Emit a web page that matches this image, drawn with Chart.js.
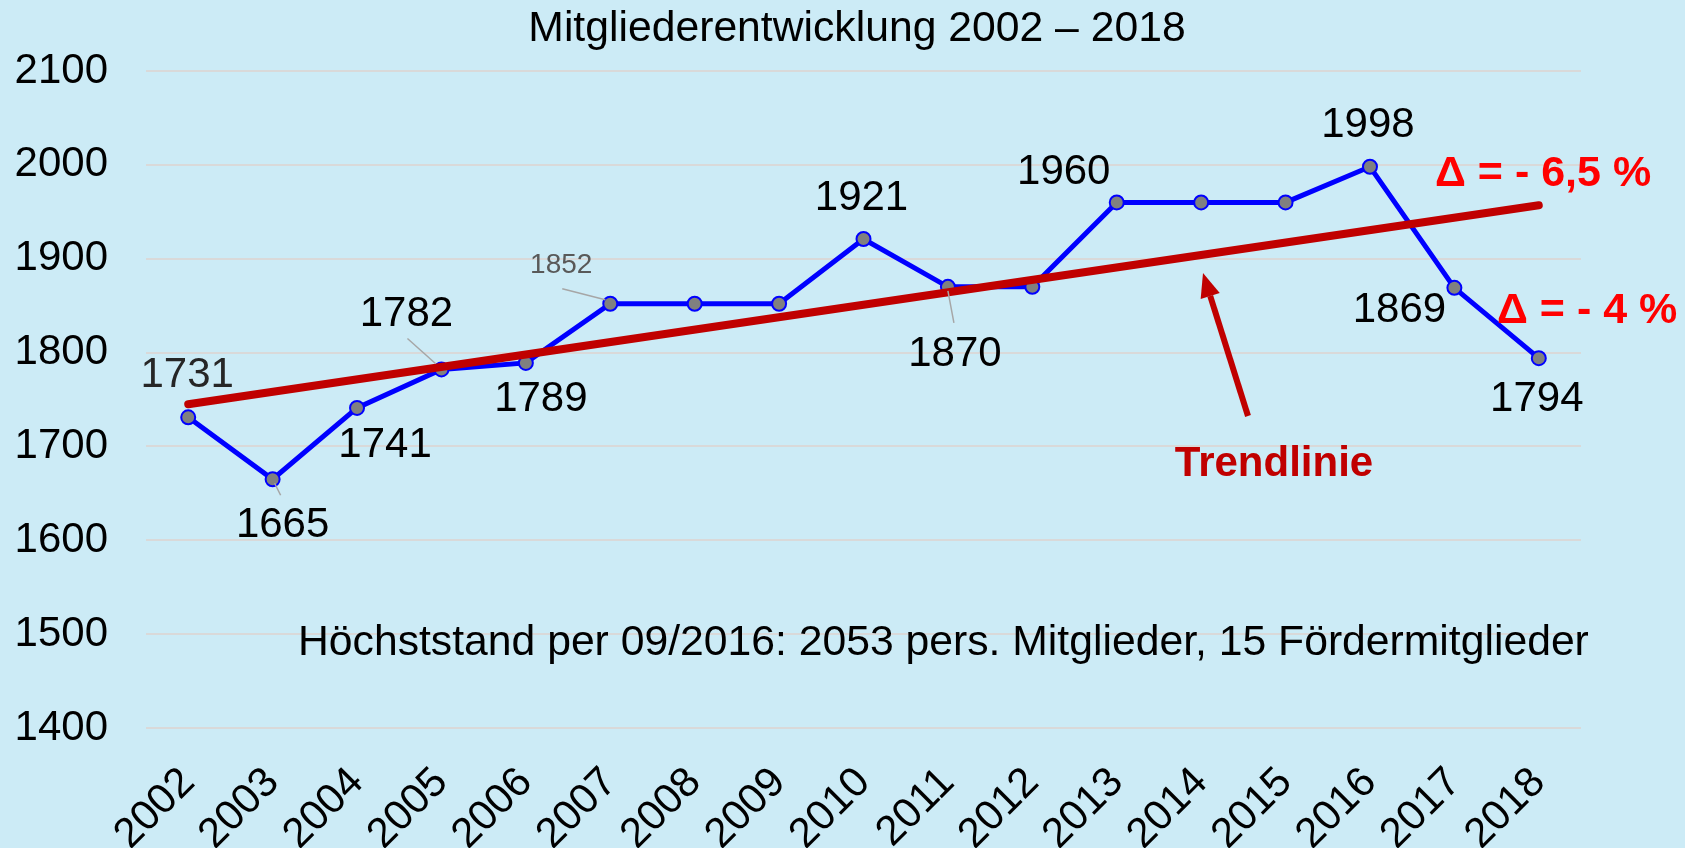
<!DOCTYPE html>
<html>
<head>
<meta charset="utf-8">
<script src="https://cdn.jsdelivr.net/npm/chart.js@4.4.1/dist/chart.umd.min.js"></script>
<style>
    html, body { margin: 0; padding: 0; background: #CCEBF6; }
    #wrap { width: 1685px; height: 848px; }
</style>
</head>
<body>
<div id="wrap"><canvas id="chart"></canvas></div>
<script>
const years = ['2002', '2003', '2004', '2005', '2006', '2007', '2008', '2009', '2010',
    '2011', '2012', '2013', '2014', '2015', '2016', '2017', '2018'];
const members = [1731, 1665, 1741, 1782, 1789, 1852, 1852, 1852, 1921,
    1870, 1870, 1960, 1960, 1960, 1998, 1869, 1794];
const trendYears = ['2002', '2018'];
const trendValues = [1745, 1957];
const yTicks = [1400, 1500, 1600, 1700, 1800, 1900, 2000, 2100];
const title = 'Mitgliederentwicklung 2002 \u2013 2018';

// which points get a value label, and where it sits relative to the point
const labelSpots = [
    { i: 0, dx: -1, dy: -42 },
    { i: 1, dx: 10, dy: 46, leader: [2, 4, 8, 16] },
    { i: 2, dx: 28, dy: 37 },
    { i: 3, dx: -35, dy: -55, leader: [-34, -31, -6, -6] },
    { i: 4, dx: 15, dy: 37 },
    { i: 5, dx: -49, dy: -38, small: true, leader: [-48, -15, -5, -4] },
    { i: 8, dx: -2, dy: -41 },
    { i: 9, dx: 7, dy: 68, leader: [0, 4, 6, 36] },
    { i: 11, dx: -53, dy: -30 },
    { i: 14, dx: -2, dy: -41 },
    { i: 15, dx: -55, dy: 23 },
    { i: 16, dx: -2, dy: 41 }
];

const FONT = '"Liberation Sans", Arial, sans-serif';

const labelPlugin = {
    id: 'valueLabels',
    afterDatasetsDraw(chart) {
        const ctx = chart.ctx;
        const meta = chart.getDatasetMeta(1);
        ctx.save();
        ctx.textAlign = 'center';
        ctx.textBaseline = 'middle';
        labelSpots.forEach(s => {
            const pt = meta.data[s.i];
            if (s.leader) {
                ctx.strokeStyle = '#A6A6A6';
                ctx.lineWidth = 1.5;
                ctx.beginPath();
                ctx.moveTo(pt.x + s.leader[0], pt.y + s.leader[1]);
                ctx.lineTo(pt.x + s.leader[2], pt.y + s.leader[3]);
                ctx.stroke();
            }
            ctx.font = (s.small ? '28px ' : '42px ') + FONT;
            ctx.fillStyle = s.small ? '#595959' : (s.i === 0 ? '#262626' : '#000000');
            ctx.fillText(String(members[s.i]), pt.x + s.dx, pt.y + s.dy);
        });
        ctx.restore();
    }
};

const notesPlugin = {
    id: 'notes',
    afterDraw(chart) {
        const ctx = chart.ctx;
        ctx.save();
        ctx.textBaseline = 'middle';

        ctx.fillStyle = '#000000';
        ctx.font = '42.7px ' + FONT;
        ctx.textAlign = 'center';
        ctx.fillText(title, 857, 29);

        ctx.textAlign = 'left';
        ctx.fillStyle = '#FF0000';
        ctx.font = 'bold 43px ' + FONT;
        ctx.fillText('\u0394 = - 6,5 %', 1435, 174);
        ctx.fillText('\u0394 = - 4 %', 1497, 311);

        ctx.fillStyle = '#C00000';
        ctx.font = 'bold 42px ' + FONT;
        ctx.textAlign = 'center';
        ctx.fillText('Trendlinie', 1274, 464);

        // arrow towards the trend line
        const tx = 1248, ty = 416, hx = 1203, hy = 273;
        const ang = Math.atan2(hy - ty, hx - tx);
        const headLen = 24, headW = 10;
        const bx = hx - headLen * Math.cos(ang), by = hy - headLen * Math.sin(ang);
        ctx.strokeStyle = '#C00000';
        ctx.lineWidth = 6;
        ctx.beginPath();
        ctx.moveTo(tx, ty);
        ctx.lineTo(bx, by);
        ctx.stroke();
        ctx.beginPath();
        ctx.moveTo(hx, hy);
        ctx.lineTo(bx + headW * Math.sin(ang), by - headW * Math.cos(ang));
        ctx.lineTo(bx - headW * Math.sin(ang), by + headW * Math.cos(ang));
        ctx.closePath();
        ctx.fillStyle = '#C00000';
        ctx.fill();

        ctx.fillStyle = '#000000';
        ctx.font = '42.7px ' + FONT;
        ctx.textAlign = 'left';
        ctx.fillText('H\u00f6chststand per 09/2016: 2053 pers. Mitglieder, 15 F\u00f6rdermitglieder', 298, 643);
        ctx.restore();
    }
};

const bgPlugin = {
    id: 'bg',
    beforeDraw(chart) {
        const ctx = chart.ctx;
        ctx.save();
        ctx.fillStyle = '#CCEBF6';
        ctx.fillRect(0, 0, chart.width, chart.height);
        ctx.restore();
    }
};

new Chart(document.getElementById('chart').getContext('2d'), {
    type: 'line',
    data: {
        labels: years,
        datasets: [{
            label: 'Trendlinie',
            data: trendYears.map((y, k) => ({ x: y, y: trendValues[k] })),
            borderColor: '#C00000',
            borderWidth: 8,
            borderCapStyle: 'round',
            pointRadius: 0,
            order: 0
        }, {
            label: 'Mitglieder',
            data: members,
            borderColor: '#0000FF',
            borderWidth: 5,
            pointRadius: 7,
            pointBackgroundColor: '#808080',
            pointBorderColor: '#0000FF',
            pointBorderWidth: 2,
            tension: 0,
            order: 1
        }]
    },
    options: {
        responsive: true,
        maintainAspectRatio: false,
        animation: false,
        layout: { padding: { top: 71, right: 104 } },
        plugins: {
            legend: { display: false },
            tooltip: { enabled: false }
        },
        scales: {
            x: {
                type: 'category',
                offset: true,
                grid: { display: false, drawTicks: false },
                border: { display: false },
                ticks: {
                    color: '#000000',
                    font: { family: FONT, size: 42 },
                    minRotation: 45,
                    maxRotation: 45,
                    padding: 30
                },
                afterFit(scale) { scale.height = 120; }
            },
            y: {
                min: 1400,
                max: 2100,
                afterBuildTicks(scale) { scale.ticks = yTicks.map(v => ({ value: v })); },
                grid: { color: '#D9D9D9', lineWidth: 2, drawTicks: false },
                border: { display: false },
                ticks: {
                    color: '#000000',
                    font: { family: FONT, size: 42 },
                    padding: 38,
                    callback: v => String(v)
                },
                afterFit(scale) { scale.width = 146; }
            }
        }
    },
    plugins: [bgPlugin, labelPlugin, notesPlugin]
});
</script>
</body>
</html>
